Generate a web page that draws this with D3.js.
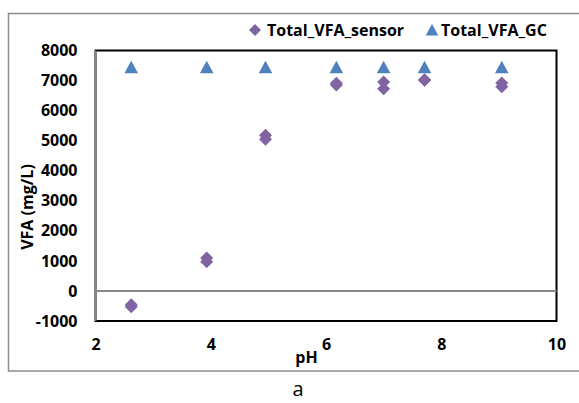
<!DOCTYPE html>
<html>
<head>
<meta charset="utf-8">
<script src="https://cdn.jsdelivr.net/npm/d3@7"></script>
<style>
  body { margin: 0; background: #fff; }
  svg { display: block; }
  text { font-family: "Open Sans", "Liberation Sans", sans-serif; }
</style>
</head>
<body>
<div id="chart"></div>
<script>
// pH of each run, two sensor readings per run, GC reference
var phValues = [2.62, 3.93, 4.95, 6.18, 7.0, 7.71, 9.05];
var sensorRep1 = [-460, 1100, 5180, 6910, 6950, 7030, 6920];
var sensorRep2 = [-530, 970, 5050, 6850, 6730, 7010, 6790];
var gcValues = [7440, 7440, 7440, 7440, 7440, 7440, 7440];
var xTicks = [2, 4, 6, 8, 10];
var yTicks = [-1000, 0, 1000, 2000, 3000, 4000, 5000, 6000, 7000, 8000];
var seriesNames = ["Total_VFA_sensor", "Total_VFA_GC"];

var w = 579, h = 403;
var plot = {left: 95.5, right: 556.5, top: 50.5, bottom: 321};
var purple = "#8064A2", blue = "#4F81BD";
var fs = 16;

var svg = d3.select("#chart").append("svg")
    .attr("width", w)
    .attr("height", h);

var x = d3.scaleLinear().domain([2, 10]).range([plot.left, plot.right]);
var y = d3.scaleLinear().domain([-1000, 8000]).range([plot.bottom, plot.top]);

// outer chart frame (right edge runs off the picture)
svg.append("rect")
    .attr("x", 8.5).attr("y", 13.5)
    .attr("width", 600).attr("height", 357.5)
    .attr("fill", "none").attr("stroke", "#8c8c8c").attr("stroke-width", 1.5);

// plot area border
svg.append("rect")
    .attr("x", plot.left).attr("y", plot.top)
    .attr("width", plot.right - plot.left).attr("height", plot.bottom - plot.top)
    .attr("fill", "none").attr("stroke", "#000").attr("stroke-width", 2);

// axis lines (gray): y axis on the left, x axis at zero
svg.append("line")
    .attr("x1", plot.left).attr("x2", plot.left)
    .attr("y1", plot.top).attr("y2", plot.bottom)
    .attr("stroke", "#878787").attr("stroke-width", 2);
svg.append("line")
    .attr("x1", plot.left).attr("x2", plot.right)
    .attr("y1", y(0)).attr("y2", y(0))
    .attr("stroke", "#878787").attr("stroke-width", 2);

var yAxis = svg.append("g")
    .attr("transform", "translate(" + plot.left + ",0)")
    .call(d3.axisLeft(y).tickValues(yTicks).tickSize(0).tickPadding(18)
        .tickFormat(function(d) { return String(d); }));
yAxis.select(".domain").remove();
yAxis.selectAll("text")
    .attr("font-family", "'Open Sans', sans-serif")
    .attr("font-size", fs).attr("font-weight", "bold").attr("fill", "#000");

var xAxis = svg.append("g")
    .attr("transform", "translate(0," + plot.bottom + ")")
    .call(d3.axisBottom(x).tickValues(xTicks).tickSize(0).tickPadding(18));
xAxis.select(".domain").remove();
xAxis.selectAll("text")
    .attr("font-family", "'Open Sans', sans-serif")
    .attr("font-size", fs).attr("font-weight", "bold").attr("fill", "#000");

// axis titles
svg.append("text")
    .attr("transform", "translate(33,207) rotate(-90)")
    .attr("text-anchor", "middle")
    .attr("font-size", fs).attr("font-weight", "bold")
    .text("VFA (mg/L)");
svg.append("text")
    .attr("x", 306.5).attr("y", 363)
    .attr("text-anchor", "middle")
    .attr("font-size", fs).attr("font-weight", "bold")
    .text("pH");

// caption
svg.append("text")
    .attr("x", 298).attr("y", 396)
    .attr("text-anchor", "middle")
    .attr("font-size", 20)
    .text("a");

var diamond = function(s) {
    return "M0," + (-s) + "L" + s + ",0L0," + s + "L" + (-s) + ",0Z";
};
var triangle = function(s) {
    return "M0," + (-s) + "L" + (s * 1.05) + "," + (s * 0.9) + "L" + (-s * 1.05) + "," + (s * 0.9) + "Z";
};

var gcData = phValues.map(function(p, i) { return {ph: p, v: gcValues[i]}; });
var sensorData = [];
phValues.forEach(function(p, i) {
    sensorData.push({ph: p, v: sensorRep1[i]});
    sensorData.push({ph: p, v: sensorRep2[i]});
});

svg.selectAll("path.gc")
    .data(gcData)
    .enter()
    .append("path")
    .attr("class", "gc")
    .attr("d", triangle(6.5))
    .attr("transform", function(d) { return "translate(" + x(d.ph) + "," + y(d.v) + ")"; })
    .attr("fill", blue);

svg.selectAll("path.sensor")
    .data(sensorData)
    .enter()
    .append("path")
    .attr("class", "sensor")
    .attr("d", diamond(6.5))
    .attr("transform", function(d) { return "translate(" + x(d.ph) + "," + y(d.v) + ")"; })
    .attr("fill", purple);

// legend
var legend = svg.append("g");
legend.append("path")
    .attr("d", diamond(6))
    .attr("transform", "translate(255,30)")
    .attr("fill", purple);
legend.append("text")
    .attr("x", 267).attr("y", 35.5)
    .attr("font-size", fs).attr("font-weight", "bold")
    .text(seriesNames[0]);
legend.append("path")
    .attr("d", triangle(6))
    .attr("transform", "translate(432,30)")
    .attr("fill", blue);
legend.append("text")
    .attr("x", 441).attr("y", 35.5)
    .attr("font-size", fs).attr("font-weight", "bold")
    .text(seriesNames[1]);
</script>
</body>
</html>
